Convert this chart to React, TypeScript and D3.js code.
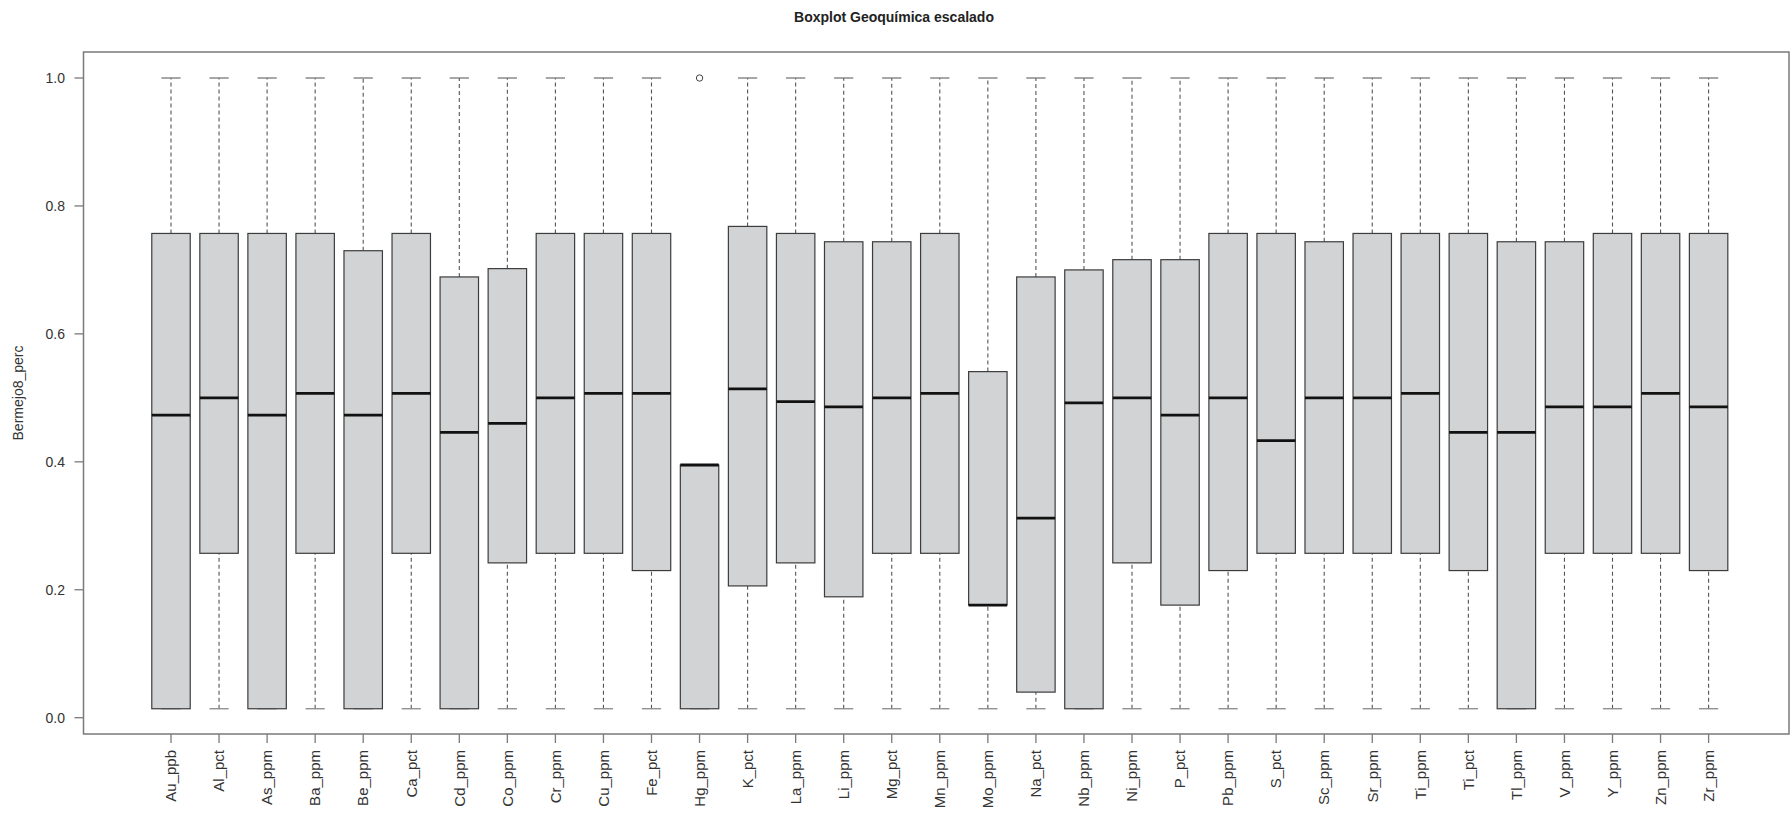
import React from "react";
import * as d3 from "d3";

const categories = [
  "Au_ppb", "Al_pct", "As_ppm", "Ba_ppm", "Be_ppm", "Ca_pct", "Cd_ppm", "Co_ppm",
  "Cr_ppm", "Cu_ppm", "Fe_pct", "Hg_ppm", "K_pct", "La_ppm", "Li_ppm", "Mg_pct",
  "Mn_ppm", "Mo_ppm", "Na_pct", "Nb_ppm", "Ni_ppm", "P_pct", "Pb_ppm", "S_pct",
  "Sc_ppm", "Sr_ppm", "Ti_ppm", "Ti_pct", "Tl_ppm", "V_ppm", "Y_ppm", "Zn_ppm", "Zr_ppm",
];

const whiskerLow = [
  0.014, 0.014, 0.014, 0.014, 0.014, 0.014, 0.014, 0.014, 0.014, 0.014, 0.014,
  0.014, 0.014, 0.014, 0.014, 0.014, 0.014, 0.014, 0.014, 0.014, 0.014, 0.014,
  0.014, 0.014, 0.014, 0.014, 0.014, 0.014, 0.014, 0.014, 0.014, 0.014, 0.014,
];
const q1 = [
  0.014, 0.257, 0.014, 0.257, 0.014, 0.257, 0.014, 0.242, 0.257, 0.257, 0.230,
  0.014, 0.206, 0.242, 0.189, 0.257, 0.257, 0.176, 0.040, 0.014, 0.242, 0.176,
  0.230, 0.257, 0.257, 0.257, 0.257, 0.230, 0.014, 0.257, 0.257, 0.257, 0.230,
];
const medians = [
  0.473, 0.500, 0.473, 0.507, 0.473, 0.507, 0.446, 0.460, 0.500, 0.507, 0.507,
  0.395, 0.514, 0.494, 0.486, 0.500, 0.507, 0.176, 0.312, 0.492, 0.500, 0.473,
  0.500, 0.433, 0.500, 0.500, 0.507, 0.446, 0.446, 0.486, 0.486, 0.507, 0.486,
];
const q3 = [
  0.757, 0.757, 0.757, 0.757, 0.730, 0.757, 0.689, 0.702, 0.757, 0.757, 0.757,
  0.395, 0.768, 0.757, 0.744, 0.744, 0.757, 0.541, 0.689, 0.700, 0.716, 0.716,
  0.757, 0.757, 0.744, 0.757, 0.757, 0.757, 0.744, 0.744, 0.757, 0.757, 0.757,
];
const whiskerHigh = [
  1, 1, 1, 1, 1, 1, 1, 1, 1, 1, 1,
  0.395, 1, 1, 1, 1, 1, 1, 1, 1, 1, 1,
  1, 1, 1, 1, 1, 1, 1, 1, 1, 1, 1,
];
const outlierCategories = ["Hg_ppm"];
const outlierValues = [1.0];

const yTicks = [0, 0.2, 0.4, 0.6, 0.8, 1.0];

const title = "Boxplot Geoquímica escalado";
const yTitle = "Bermejo8_perc";

export default function App() {
  const W = 1790;
  const H = 813;
  const frame = { left: 83.5, right: 1789, top: 52, bottom: 734 };

  const x = d3.scaleLinear().domain([1, categories.length]).range([171, 1708.6]);
  const y = d3.scaleLinear().domain([0, 1]).range([717.7, 78]);
  const unit = x(2) - x(1);
  const boxHalf = unit * 0.4;
  const capHalf = boxHalf * 0.5;

  const font = "'Liberation Sans', Arial, Helvetica, sans-serif";
  const textColor = "#333";
  const axisColor = "#7a7a7a";

  return (
    <svg width={W} height={H} style={{ position: "absolute", left: 0, top: 0, background: "#fff" }}>
      <rect x={0} y={0} width={W} height={H} fill="#fff" />
      <text x={894} y={22} textAnchor="middle" fontFamily={font} fontWeight="bold" fontSize={14} fill="#222">
        {title}
      </text>
      <text
        transform={`translate(23, ${(frame.top + frame.bottom) / 2}) rotate(-90)`}
        textAnchor="middle"
        fontFamily={font}
        fontSize={14}
        fill={textColor}
      >
        {yTitle}
      </text>

      {categories.map((c, i) => {
        const cx = x(i + 1);
        return (
          <g key={c}>
            <line x1={cx} x2={cx} y1={y(q3[i])} y2={y(whiskerHigh[i])} stroke="#555" strokeWidth={1.1} strokeDasharray="4,3" />
            <line x1={cx} x2={cx} y1={y(whiskerLow[i])} y2={y(q1[i])} stroke="#555" strokeWidth={1.1} strokeDasharray="4,3" />
            <line x1={cx - capHalf} x2={cx + capHalf} y1={y(whiskerHigh[i])} y2={y(whiskerHigh[i])} stroke="#777" strokeWidth={1.3} />
            <line x1={cx - capHalf} x2={cx + capHalf} y1={y(whiskerLow[i])} y2={y(whiskerLow[i])} stroke="#888" strokeWidth={1.3} />
            <rect
              x={cx - boxHalf}
              y={y(q3[i])}
              width={boxHalf * 2}
              height={y(q1[i]) - y(q3[i])}
              fill="#d2d3d5"
              stroke="#3c3c3c"
              strokeWidth={1.2}
            />
            <line x1={cx - boxHalf} x2={cx + boxHalf} y1={y(medians[i])} y2={y(medians[i])} stroke="#111" strokeWidth={2.8} />
            <line x1={cx} x2={cx} y1={frame.bottom} y2={frame.bottom + 9} stroke={axisColor} strokeWidth={1.3} />
            <text
              transform={`translate(${cx}, 750) rotate(-90)`}
              dy="0.35em"
              textAnchor="end"
              fontFamily={font}
              fontSize={15}
              fill={textColor}
            >
              {c}
            </text>
          </g>
        );
      })}

      {outlierCategories.map((c, k) => {
        const i = categories.indexOf(c);
        return (
          <circle key={c} cx={x(i + 1)} cy={y(outlierValues[k])} r={3.2} fill="none" stroke="#444" strokeWidth={1} />
        );
      })}

      {yTicks.map((t) => (
        <g key={t}>
          <line x1={frame.left - 9} x2={frame.left} y1={y(t)} y2={y(t)} stroke={axisColor} strokeWidth={1.3} />
          <text x={65} y={y(t)} dy="0.35em" textAnchor="end" fontFamily={font} fontSize={14} fill={textColor}>
            {t.toFixed(1)}
          </text>
        </g>
      ))}

      <rect
        x={frame.left}
        y={frame.top}
        width={frame.right - frame.left}
        height={frame.bottom - frame.top}
        fill="none"
        stroke={axisColor}
        strokeWidth={1.5}
      />
    </svg>
  );
}
